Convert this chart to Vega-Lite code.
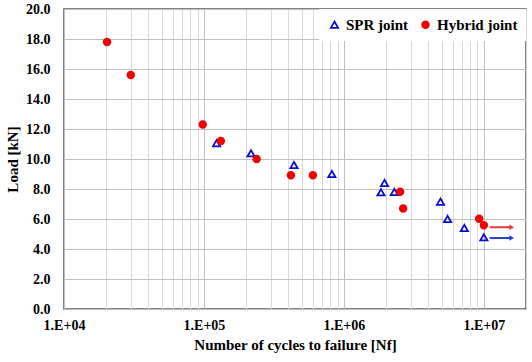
{
  "$schema": "https://vega.github.io/schema/vega-lite/v6.json",
  "width": 462,
  "height": 300,
  "autosize": "none",
  "padding": {"left": 64, "top": 9, "right": 6, "bottom": 53},
  "background": "white",
  "config": {
    "view": {"stroke": "#595959", "strokeWidth": 1.5},
    "font": "Liberation Serif",
    "axis": {
      "labelFont": "Liberation Serif",
      "titleFont": "Liberation Serif",
      "labelOverlap": false
    },
    "legend": {
      "orient": "top-right",
      "direction": "horizontal",
      "fillColor": "white",
      "padding": 8,
      "offset": 0,
      "labelFont": "Liberation Serif",
      "labelFontSize": 15,
      "labelFontWeight": "bold",
      "labelColor": "black",
      "symbolStrokeWidth": 1.8,
      "columnPadding": 9,
      "labelOffset": 4
    }
  },
  "datasets": {
    "points": [
      {"series": "SPR joint", "cycles": 123000, "load": 11.05},
      {"series": "SPR joint", "cycles": 217000, "load": 10.38},
      {"series": "SPR joint", "cycles": 440000, "load": 9.6},
      {"series": "SPR joint", "cycles": 820000, "load": 9.0},
      {"series": "SPR joint", "cycles": 1840000, "load": 7.78},
      {"series": "SPR joint", "cycles": 1950000, "load": 8.4},
      {"series": "SPR joint", "cycles": 2290000, "load": 7.8},
      {"series": "SPR joint", "cycles": 4900000, "load": 7.15},
      {"series": "SPR joint", "cycles": 5500000, "load": 6.0},
      {"series": "SPR joint", "cycles": 7250000, "load": 5.4},
      {"series": "SPR joint", "cycles": 10000000, "load": 4.78},
      {"series": "Hybrid joint", "cycles": 20300, "load": 17.8},
      {"series": "Hybrid joint", "cycles": 30000, "load": 15.6},
      {"series": "Hybrid joint", "cycles": 98000, "load": 12.3},
      {"series": "Hybrid joint", "cycles": 132000, "load": 11.2},
      {"series": "Hybrid joint", "cycles": 238000, "load": 10.0},
      {"series": "Hybrid joint", "cycles": 418000, "load": 8.92},
      {"series": "Hybrid joint", "cycles": 600000, "load": 8.92},
      {"series": "Hybrid joint", "cycles": 2520000, "load": 7.82},
      {"series": "Hybrid joint", "cycles": 2650000, "load": 6.7},
      {"series": "Hybrid joint", "cycles": 9260000, "load": 6.02},
      {"series": "Hybrid joint", "cycles": 10000000, "load": 5.58}
    ],
    "arrows": [
      {"cycles": 11000000, "cycles2": 15500000, "load": 5.45, "col": "#e03c3c"},
      {"cycles": 11000000, "cycles2": 15500000, "load": 4.73, "col": "#1f3fd0"}
    ],
    "heads": [
      {"cycles": 15800000, "load": 5.45, "col": "#e03c3c"},
      {"cycles": 15800000, "load": 4.73, "col": "#1f3fd0"}
    ]
  },
  "encoding": {
    "x": {
      "field": "cycles",
      "type": "quantitative",
      "scale": {"type": "log", "domain": [10000, 20000000], "nice": false},
      "axis": {
        "title": "Number of cycles to failure [Nf]",
        "values": [10000, 20000, 30000, 40000, 50000, 60000, 70000, 80000, 90000, 100000, 200000, 300000, 400000, 500000, 600000, 700000, 800000, 900000, 1000000, 2000000, 3000000, 4000000, 5000000, 6000000, 7000000, 8000000, 9000000, 10000000, 20000000],
        "labelExpr": "abs(log(datum.value)/LN10 - round(log(datum.value)/LN10)) < 0.000001 ? '1.E+0' + round(log(datum.value)/LN10) : ''",
        "labelOverlap": false,
        "labelBound": false,
        "labelFlush": false,
        "ticks": false,
        "tickSize": 0,
        "domain": false,
        "grid": true,
        "gridColor": {"condition": {"test": "abs(log(datum.value)/LN10 - round(log(datum.value)/LN10)) < 0.000001", "value": "#bfbfbf"}, "value": "#d9d9d9"},
        "gridWidth": 1,
        "labelFontSize": 14,
        "labelFontWeight": "bold",
        "labelColor": "black",
        "labelPadding": 9,
        "titleFontSize": 15,
        "titleFontWeight": "bold",
        "titleColor": "black",
        "titlePadding": 5
      }
    },
    "y": {
      "field": "load",
      "type": "quantitative",
      "scale": {"domain": [0, 20], "nice": false},
      "axis": {
        "title": "Load [kN]",
        "values": [0, 2, 4, 6, 8, 10, 12, 14, 16, 18, 20],
        "format": ".1f",
        "labelOverlap": false,
        "ticks": false,
        "tickSize": 0,
        "domain": false,
        "grid": true,
        "gridColor": "#bfbfbf",
        "labelFontSize": 14,
        "labelFontWeight": "bold",
        "labelColor": "black",
        "labelPadding": 14,
        "labelBound": false,
        "labelFlush": false,
        "titleFontSize": 15,
        "titleFontWeight": "bold",
        "titleColor": "black",
        "titlePadding": 5
      }
    }
  },
  "layer": [
    {
      "data": {"name": "points"},
      "mark": {"type": "point", "strokeWidth": 1.8, "opacity": 1},
      "encoding": {
        "shape": {
          "field": "series",
          "type": "nominal",
          "scale": {"domain": ["SPR joint", "Hybrid joint"], "range": ["triangle-up", "circle"]},
          "title": null
        },
        "size": {
          "field": "series",
          "type": "nominal",
          "scale": {"domain": ["SPR joint", "Hybrid joint"], "range": [52, 44]},
          "title": null
        },
        "stroke": {
          "field": "series",
          "type": "nominal",
          "scale": {"domain": ["SPR joint", "Hybrid joint"], "range": ["#0a0ad0", "#f00000"]},
          "title": null
        },
        "fill": {
          "field": "series",
          "type": "nominal",
          "scale": {"domain": ["SPR joint", "Hybrid joint"], "range": ["transparent", "#f00000"]},
          "title": null
        }
      }
    },
    {
      "data": {"name": "arrows"},
      "mark": {"type": "rule", "strokeWidth": 2},
      "encoding": {
        "x2": {"field": "cycles2"},
        "color": {"field": "col", "type": "nominal", "scale": null}
      }
    },
    {
      "data": {"name": "heads"},
      "mark": {"type": "point", "shape": "triangle-right", "filled": true, "opacity": 1, "size": 30},
      "encoding": {
        "color": {"field": "col", "type": "nominal", "scale": null}
      }
    }
  ]
}
